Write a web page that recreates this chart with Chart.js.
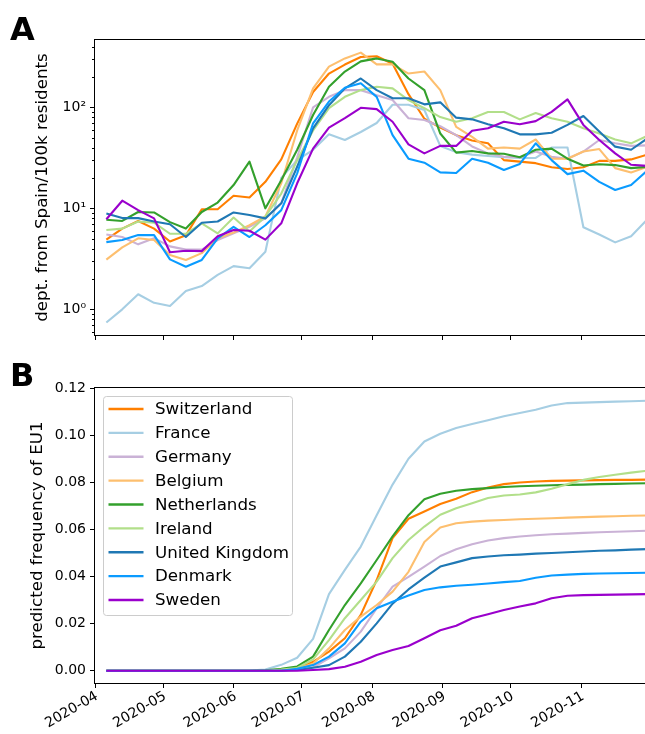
<!DOCTYPE html>
<html>
<head>
<meta charset="utf-8">
<title>EU1 travel and frequency</title>
<script src="https://cdn.jsdelivr.net/npm/chart.js@4.4.0/dist/chart.umd.min.js"></script>
<style>
  html, body { margin: 0; padding: 0; background: #fff; overflow: hidden; }
  #wrap { position: relative; width: 645px; height: 734px; overflow: hidden; }
  canvas { position: absolute; left: 0; }
  #chartA { top: 0; }
  #chartB { top: 360px; }
</style>
</head>
<body>
<div id="wrap">
  <canvas id="chartA" width="647" height="360"></canvas>
  <canvas id="chartB" width="647" height="374"></canvas>
</div>
<script>
const weeks = [
  '2020-04-06', '2020-04-13', '2020-04-20', '2020-04-27', '2020-05-04', '2020-05-11', '2020-05-18',
  '2020-05-25', '2020-06-01', '2020-06-08', '2020-06-15', '2020-06-22', '2020-06-29', '2020-07-06',
  '2020-07-13', '2020-07-20', '2020-07-27', '2020-08-03', '2020-08-10', '2020-08-17', '2020-08-24',
  '2020-08-31', '2020-09-07', '2020-09-14', '2020-09-21', '2020-09-28', '2020-10-05', '2020-10-12',
  '2020-10-19', '2020-10-26', '2020-11-02', '2020-11-09', '2020-11-16', '2020-11-23', '2020-11-30'
];
const countries = ['Switzerland', 'France', 'Germany', 'Belgium', 'Netherlands', 'Ireland', 'United Kingdom', 'Denmark', 'Sweden'];
const monthLabels = ['2020-04', '2020-05', '2020-06', '2020-07', '2020-08', '2020-09', '2020-10', '2020-11'];
const logTicks = [1, 10, 100];
const logTickLabels = ['10\u2070', '10\u00b9', '10\u00b2'];
const freqTicks = [0, 0.02, 0.04, 0.06, 0.08, 0.10, 0.12];

// panel A: departures from Spain per 100k residents
const casesSwitzerland = [4.9, 6.3, 7.5, 6.3, 4.7, 5.4, 9.8, 9.8, 13.3, 12.8, 18.3, 30.5, 69, 142, 216, 265, 315, 320, 270, 135, 77, 63, 53, 47, 44, 30, 29, 28, 25.5, 24.5, 25.5, 29.5, 29.5, 30.5, 34];
const casesFrance = [0.74, 1.0, 1.41, 1.16, 1.08, 1.52, 1.7, 2.19, 2.68, 2.55, 3.72, 20, 30, 38, 54, 47.5, 57, 70, 106, 106, 94, 41.5, 36, 34, 33, 32, 31.5, 31.5, 40, 40, 6.5, 5.5, 4.6, 5.3, 7.7];
const casesGermany = [5.5, 5.2, 4.4, 5.05, 4.2, 3.9, 3.9, 4.85, 5.65, 6.56, 7.95, 11.2, 32, 100, 127, 148, 148, 132, 118, 78, 75, 65, 53, 41, 35, 32.4, 32, 36.5, 32.4, 31, 36.5, 47.5, 44, 41.5, 42];
const casesBelgium = [3.1, 4.1, 5.05, 4.85, 3.45, 3.08, 3.6, 5.05, 5.75, 6.8, 8.3, 17.7, 59, 154, 253, 305, 348, 266, 266, 216, 226, 148, 64, 51, 39, 40, 39, 48, 31, 31, 36.5, 38.6, 25, 22.6, 25.7];
const casesNetherlands = [7.7, 7.5, 9.2, 9.1, 7.3, 6.3, 9.2, 11.4, 17, 29, 10, 19, 38, 84, 160, 226, 285, 305, 282, 193, 148, 55, 35.6, 37, 35, 34.7, 32, 38, 39, 31, 26.5, 27.3, 26.8, 25, 25.7];
const casesIreland = [6.1, 6.3, 7.4, 7.2, 5.6, 5.6, 7.1, 5.65, 8.1, 5.9, 8.3, 14, 30, 59, 98, 127, 148, 160, 154, 118, 98, 80, 72, 78, 90, 90, 76, 88, 78, 72, 62, 55, 48, 44, 52];
const casesUK = [8.9, 8.0, 8.0, 7.4, 6.95, 5.2, 7.2, 7.4, 9.1, 8.6, 7.95, 11.2, 25.8, 62, 105, 154, 193, 148, 123, 123, 107, 112, 79, 76, 68, 62, 54, 54, 56, 67, 82, 57.5, 40.8, 38, 49];
const casesDenmark = [4.63, 4.85, 5.43, 5.43, 3.12, 2.64, 3.08, 5.05, 6.56, 5.2, 6.8, 9.6, 22.2, 69.5, 114, 156, 173, 127, 53, 31, 28.3, 22.7, 22.4, 31, 28.3, 24, 27.5, 44, 30, 21.8, 23.6, 18.3, 15.2, 17, 23.5];
const casesSweden = [7.8, 11.9, 9.6, 7.95, 3.67, 3.8, 3.77, 5.3, 6.1, 6.0, 4.9, 7.1, 17.7, 39, 63, 78, 99, 96, 72, 43, 35, 41.5, 41.5, 58.6, 62, 72, 68, 73, 90, 120, 67, 47.5, 35, 27, 26.3];

// panel B: predicted frequency of EU1
const freqSwitzerland = [0, 0, 0, 0, 0, 0, 0, 0, 0, 0, 0, 0.0003, 0.0008, 0.0038, 0.0081, 0.0138, 0.0237, 0.0385, 0.0563, 0.0645, 0.0676, 0.0708, 0.073, 0.0758, 0.0778, 0.0792, 0.0799, 0.0803, 0.0806, 0.0807, 0.0808, 0.0809, 0.081, 0.081, 0.0811];
const freqFrance = [0, 0, 0, 0, 0, 0, 0, 0, 0, 0.0001, 0.0005, 0.0025, 0.0055, 0.0135, 0.0325, 0.0428, 0.0527, 0.066, 0.079, 0.09, 0.0973, 0.1006, 0.103, 0.1047, 0.1063, 0.108, 0.1094, 0.1108, 0.1126, 0.1136, 0.1138, 0.114, 0.1142, 0.1144, 0.1146];
const freqGermany = [0, 0, 0, 0, 0, 0, 0, 0, 0, 0, 0, 0.0002, 0.0006, 0.0015, 0.0053, 0.0095, 0.0166, 0.0265, 0.0357, 0.0398, 0.0442, 0.0487, 0.0516, 0.0537, 0.0553, 0.0563, 0.057, 0.0575, 0.0579, 0.0582, 0.0585, 0.0588, 0.059, 0.0592, 0.0594];
const freqBelgium = [0, 0, 0, 0, 0, 0, 0, 0, 0, 0, 0, 0.0003, 0.001, 0.003, 0.0095, 0.0173, 0.023, 0.0279, 0.0336, 0.042, 0.0546, 0.0608, 0.0626, 0.0633, 0.0637, 0.064, 0.0643, 0.0645, 0.0647, 0.065, 0.0652, 0.0654, 0.0656, 0.0658, 0.0659];
const freqNetherlands = [0, 0, 0, 0, 0, 0, 0, 0, 0, 0, 0.0002, 0.0008, 0.0018, 0.006, 0.0173, 0.0279, 0.0371, 0.047, 0.057, 0.066, 0.0728, 0.0751, 0.0764, 0.0771, 0.0775, 0.078, 0.0783, 0.0785, 0.0787, 0.0789, 0.079, 0.0792, 0.0793, 0.0795, 0.0796];
const freqIreland = [0, 0, 0, 0, 0, 0, 0, 0, 0, 0, 0, 0.0005, 0.0012, 0.0048, 0.013, 0.0223, 0.03, 0.0378, 0.0478, 0.0555, 0.0612, 0.0662, 0.069, 0.0711, 0.0733, 0.0744, 0.0748, 0.0757, 0.0772, 0.0792, 0.081, 0.0822, 0.0832, 0.0841, 0.0849];
const freqUK = [0, 0, 0, 0, 0, 0, 0, 0, 0, 0, 0, 0, 0.0003, 0.0013, 0.0024, 0.006, 0.0123, 0.0201, 0.0285, 0.0345, 0.0395, 0.0442, 0.046, 0.0478, 0.0485, 0.049, 0.0493, 0.0497, 0.05, 0.0503, 0.0506, 0.0509, 0.0511, 0.0514, 0.0516];
const freqDenmark = [0, 0, 0, 0, 0, 0, 0, 0, 0, 0, 0, 0, 0.0008, 0.0024, 0.006, 0.0116, 0.0208, 0.0265, 0.0293, 0.0319, 0.0343, 0.0354, 0.0361, 0.0365, 0.037, 0.0376, 0.0381, 0.0395, 0.0404, 0.0408, 0.0411, 0.0413, 0.0414, 0.0415, 0.0416];
const freqSweden = [0, 0, 0, 0, 0, 0, 0, 0, 0, 0, 0, 0, 0, 0.0003, 0.0007, 0.0017, 0.0038, 0.0067, 0.0088, 0.0105, 0.0138, 0.0172, 0.0191, 0.0223, 0.024, 0.0258, 0.0273, 0.0286, 0.0308, 0.0318, 0.0321, 0.0322, 0.0323, 0.0324, 0.0325];

const casesByCountry = [casesSwitzerland, casesFrance, casesGermany, casesBelgium, casesNetherlands, casesIreland, casesUK, casesDenmark, casesSweden];
const freqByCountry = [freqSwitzerland, freqFrance, freqGermany, freqBelgium, freqNetherlands, freqIreland, freqUK, freqDenmark, freqSweden];
const colors = ['#ff7f00', '#a6cee3', '#cab2d6', '#fdbf6f', '#33a02c', '#b2df8a', '#1f78b4', '#0a9bff', '#9a00cc'];

const FONT = 'DejaVu Sans';
const X_MAX = 243; // 2020-11-30, just past the visible right edge

function dayOf(str) {
  const [y, m, d] = str.split('-').map(Number);
  return (Date.UTC(y, m - 1, d || 1) - Date.UTC(2020, 3, 1)) / 864e5;
}

const monthDays = monthLabels.map((m) => dayOf(m));

function makeDatasets(series) {
  return countries.map((name, i) => ({
    label: name,
    data: weeks.map((w, k) => ({ x: dayOf(w), y: series[i][k] })),
    borderColor: colors[i],
    borderWidth: 2.1,
    pointRadius: 0,
    tension: 0,
    fill: false,
    borderJoinStyle: 'round',
    order: countries.length - i // later countries drawn on top
  }));
}

// frame, minor log ticks, panel letter, legend
const decorations = {
  id: 'decorations',
  afterDraw(chart, args, opts) {
    const { ctx, chartArea: a } = chart;
    ctx.save();
    ctx.strokeStyle = '#000';
    ctx.lineWidth = 1;
    ctx.strokeRect(a.left - 0.5, a.top - 0.5, a.right - a.left + 1, a.bottom - a.top + 1);

    if (opts.minorLog) {
      const ys = chart.scales.y;
      const minor = [];
      for (let e = -1; e <= 2; e++) {
        for (let s = 2; s <= 9; s++) minor.push(s * Math.pow(10, e));
      }
      minor.filter((v) => v > ys.min && v < ys.max).forEach((v) => {
        const py = Math.round(ys.getPixelForValue(v)) + 0.5;
        ctx.beginPath();
        ctx.moveTo(a.left - 3, py);
        ctx.lineTo(a.left, py);
        ctx.stroke();
      });
    }

    ctx.fillStyle = '#000';
    ctx.font = 'bold 32px "' + FONT + '"';
    ctx.textBaseline = 'alphabetic';
    ctx.textAlign = 'left';
    ctx.fillText(opts.letter, 10, opts.letterY);

    if (opts.legend) {
      const lx = a.left + 8, ly = a.top + 8, lw = 189, lh = 219;
      ctx.fillStyle = 'rgba(255,255,255,0.8)';
      ctx.strokeStyle = '#cccccc';
      ctx.beginPath();
      ctx.roundRect(lx + 0.5, ly + 0.5, lw, lh, 3);
      ctx.fill();
      ctx.stroke();
      ctx.font = '16.7px "' + FONT + '"';
      ctx.textBaseline = 'middle';
      chart.data.datasets.forEach((ds, k) => {
        const y = ly + 13 + k * 23.875;
        ctx.strokeStyle = ds.borderColor;
        ctx.lineWidth = 2.3;
        ctx.beginPath();
        ctx.moveTo(lx + 5.5, y);
        ctx.lineTo(lx + 40.5, y);
        ctx.stroke();
        ctx.fillStyle = '#000';
        ctx.fillText(ds.label, lx + 52, y + 1);
      });
    }
    ctx.restore();
  }
};

function xAxis(showLabels, height) {
  return {
    type: 'linear',
    min: 0,
    max: X_MAX,
    bounds: 'data',
    afterBuildTicks: (scale) => { scale.ticks = monthDays.map((v) => ({ value: v })); },
    afterFit: (scale) => { scale.height = height; },
    grid: { drawOnChartArea: false, drawTicks: true, tickLength: 5, color: '#000' },
    border: { display: false },
    ticks: {
      display: showLabels,
      autoSkip: false,
      minRotation: 30,
      maxRotation: 30,
      padding: 0,
      labelOffset: 2,
      color: '#000',
      font: { family: FONT, size: 14 },
      callback: (v) => monthLabels[monthDays.indexOf(v)] || ''
    }
  };
}

function yTitle(text, pad) {
  return { display: true, text: text, color: '#000', font: { family: FONT, size: 16.7 }, padding: { top: pad, bottom: 0 } };
}

const commonOptions = {
  responsive: false,
  animation: false,
  devicePixelRatio: 1,
  plugins: { legend: { display: false }, tooltip: { enabled: false } }
};

function drawPanelA() {
  const target = document.querySelector('#chartA');
  return new Chart(target, {
    type: 'line',
    data: { datasets: makeDatasets(casesByCountry) },
    options: {
      ...commonOptions,
      layout: { padding: { top: 40, left: 0, right: 0, bottom: 0 } },
      plugins: { ...commonOptions.plugins, decorations: { letter: 'A', letterY: 40, minorLog: true } },
      scales: {
        x: xAxis(false, 25),
        y: {
          type: 'logarithmic',
          min: 0.557,
          max: 464,
          bounds: 'data',
          afterBuildTicks: (scale) => { scale.ticks = logTicks.map((v) => ({ value: v, major: true })); },
          afterFit: (scale) => { scale.width = 95; },
          grid: { drawOnChartArea: false, drawTicks: true, tickLength: 5, color: '#000' },
          border: { display: false },
          ticks: {
            padding: 4,
            color: '#000',
            font: { family: FONT, size: 14 },
            callback: (v) => logTickLabels[logTicks.indexOf(v)] || ''
          },
          title: yTitle('dept. from Spain/100k residents', 33)
        }
      }
    },
    plugins: [decorations]
  });
}

function drawPanelB() {
  const target = document.querySelector('#chartB');
  return new Chart(target, {
    type: 'line',
    data: { datasets: makeDatasets(freqByCountry) },
    options: {
      ...commonOptions,
      layout: { padding: { top: 28, left: 0, right: 0, bottom: 0 } },
      plugins: { ...commonOptions.plugins, decorations: { letter: 'B', letterY: 26, legend: true } },
      scales: {
        x: xAxis(true, 51),
        y: {
          type: 'linear',
          min: -0.0052,
          max: 0.12,
          bounds: 'data',
          afterBuildTicks: (scale) => { scale.ticks = freqTicks.map((v) => ({ value: v })); },
          afterFit: (scale) => { scale.width = 95; },
          grid: { drawOnChartArea: false, drawTicks: true, tickLength: 5, color: '#000' },
          border: { display: false },
          ticks: {
            padding: 4,
            color: '#000',
            font: { family: FONT, size: 14 },
            callback: (v) => v.toFixed(2)
          },
          title: yTitle('predicted frequency of EU1', 28)
        }
      }
    },
    plugins: [decorations]
  });
}

document.addEventListener('DOMContentLoaded', () => {
  drawPanelA();
  drawPanelB();
});
</script>
</body>
</html>
